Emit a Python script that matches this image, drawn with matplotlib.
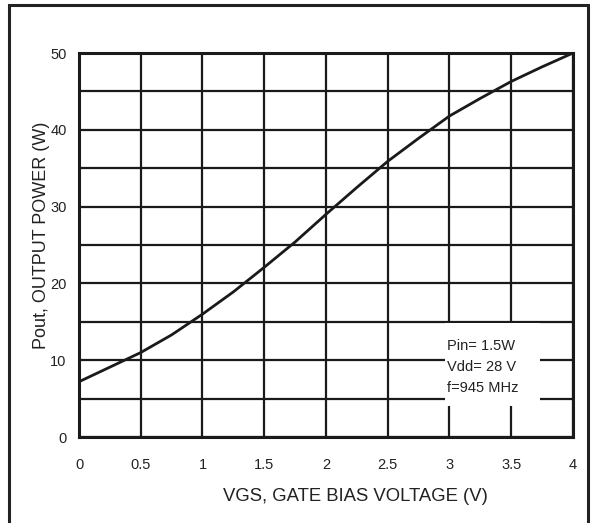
import matplotlib.pyplot as plt
from matplotlib.patches import Rectangle

plt.rcParams['font.family'] = ['Liberation Sans', 'DejaVu Sans']

# Pout vs VGS
vgs = [0, 0.25, 0.5, 0.75, 1, 1.25, 1.5, 1.75, 2, 2.25, 2.5, 2.75, 3, 3.25, 3.5, 3.75, 4]
pout = [7.2, 9.1, 11.0, 13.3, 16.0, 18.9, 22.1, 25.4, 29.0, 32.5, 35.9, 38.9, 41.8, 44.1, 46.3, 48.2, 50.0]

x_ticks = [0, 0.5, 1, 1.5, 2, 2.5, 3, 3.5, 4]
x_tick_labels = ['0', '0.5', '1', '1.5', '2', '2.5', '3', '3.5', '4']
y_ticks = [0, 10, 20, 30, 40, 50]
notes = ['Pin= 1.5W', 'Vdd= 28 V', 'f=945 MHz']

fig = plt.figure(figsize=(5.94, 5.23), dpi=100)
ax = fig.add_axes([0.133, 0.1644, 0.8316, 0.7342])

# outer frame around the whole figure
fig.patches.append(Rectangle((0.0152, -0.05), 0.9747, 1.04, transform=fig.transFigure,
                             fill=False, edgecolor='#222222', linewidth=2.2))

ax.plot(vgs, pout, color='#1a1a1a', linewidth=2.0, zorder=3)

ax.set_xlim(0, 4)
ax.set_ylim(0, 50)
ax.set_xticks(x_ticks)
ax.set_xticklabels(x_tick_labels)
ax.set_yticks(y_ticks)
ax.set_yticks([5, 15, 25, 35, 45], minor=True)
ax.tick_params(axis='both', which='both', length=0, labelsize=10.5, colors='#222222')
ax.tick_params(axis='x', pad=15)
ax.tick_params(axis='y', pad=9)

ax.grid(True, which='both', color='#1a1a1a', linewidth=1.6)
ax.set_axisbelow(True)
for s in ax.spines.values():
    s.set_linewidth(2.2)
    s.set_color('#1a1a1a')
    s.set_zorder(4)

# white box with test conditions, breaks the grid
ax.add_patch(Rectangle((2.96, 4.1), 0.77, 10.7, facecolor='white', edgecolor='none', zorder=2))
for i, t in enumerate(notes):
    ax.text(2.98, 11.8 - i * 2.7, t, fontsize=10.5, color='#222222',
            va='center', ha='left', zorder=3)

ax.set_xlabel('VGS, GATE BIAS VOLTAGE (V)', fontsize=13.3, color='#222222')
ax.xaxis.set_label_coords(0.559, -0.133)
ax.set_ylabel('Pout, OUTPUT POWER (W)', fontsize=13, color='#222222')
ax.yaxis.set_label_coords(-0.058, 0.526)

fig.savefig('out.png', dpi=100)
